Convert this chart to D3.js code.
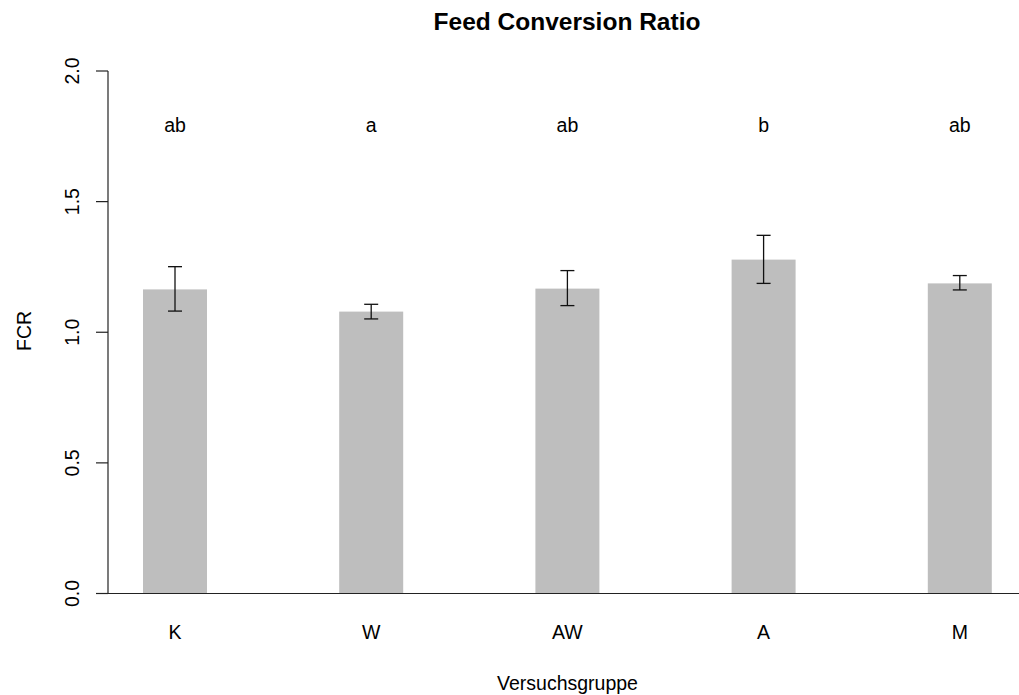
<!DOCTYPE html>
<html>
<head>
<meta charset="utf-8">
<script src="https://cdn.jsdelivr.net/npm/d3@7"></script>
<style>
  body { margin: 0; background: #fff; }
  text { font-family: "Liberation Sans", Arial, sans-serif; fill: #000; }
</style>
</head>
<body>
<svg width="1019" height="695"></svg>
<script>
/* Data */

var groups   = ["K", "W", "AW", "A", "M"];
var fcr      = [1.164, 1.079, 1.167, 1.278, 1.187];
var errLow   = [1.081, 1.051, 1.102, 1.187, 1.162];
var errHigh  = [1.251, 1.107, 1.236, 1.371, 1.217];
var letters  = ["ab", "a", "ab", "b", "ab"];
var yTicks   = [0, 0.5, 1, 1.5, 2];
var letterY  = 1.8;

/* Setup */

var svg = d3.select("svg");
var w = +svg.attr("width"),
    h = +svg.attr("height"),
    fs = 19.5,
    capW = 14;

var y = d3.scaleLinear()
    .domain([0, 2])
    .range([593.5, 71]);

var x = d3.scaleBand()
    .domain(groups)
    .range([108, 1026.8])
    .paddingInner(0.6738)
    .paddingOuter(0.1784);

var rows = groups.map((g, i) => ({
  g: g, v: fcr[i], lo: errLow[i], hi: errHigh[i], lab: letters[i]
}));

/* Bars */

svg.selectAll(".bar")
  .data(rows)
  .enter().append("rect")
  .classed("bar", true)
  .attr("x", (d) => x(d.g))
  .attr("y", (d) => y(d.v))
  .attr("width", x.bandwidth())
  .attr("height", (d) => y(0) - y(d.v))
  .attr("fill", "#bebebe");

/* Error bars */

var cx = (d) => x(d.g) + x.bandwidth() / 2;

var eb = svg.selectAll(".err")
  .data(rows)
  .enter().append("g")
  .classed("err", true)
  .attr("stroke", "#111")
  .attr("stroke-width", 1.3);

eb.append("line")
  .attr("x1", cx).attr("x2", cx)
  .attr("y1", (d) => y(d.hi))
  .attr("y2", (d) => y(d.lo));
eb.append("line")
  .attr("x1", (d) => cx(d) - capW / 2).attr("x2", (d) => cx(d) + capW / 2)
  .attr("y1", (d) => y(d.hi)).attr("y2", (d) => y(d.hi));
eb.append("line")
  .attr("x1", (d) => cx(d) - capW / 2).attr("x2", (d) => cx(d) + capW / 2)
  .attr("y1", (d) => y(d.lo)).attr("y2", (d) => y(d.lo));

/* Significance letters */

svg.selectAll(".sig")
  .data(rows)
  .enter().append("text")
  .classed("sig", true)
  .attr("x", cx)
  .attr("y", y(letterY) + 9)
  .attr("text-anchor", "middle")
  .style("font-size", fs + "px")
  .text((d) => d.lab);

/* Axes */

var ax = svg.append("g").attr("stroke", "#222").attr("stroke-width", 1.2);

ax.append("line")
  .attr("x1", 108).attr("x2", 108)
  .attr("y1", y(2)).attr("y2", y(0));

ax.append("line")
  .attr("x1", 96).attr("x2", w)
  .attr("y1", y(0)).attr("y2", y(0));

ax.selectAll(".tick")
  .data(yTicks)
  .enter().append("line")
  .attr("x1", 96).attr("x2", 108)
  .attr("y1", (d) => y(d)).attr("y2", (d) => y(d));

svg.selectAll(".ylab")
  .data(yTicks)
  .enter().append("text")
  .classed("ylab", true)
  .attr("transform", (d) => "translate(79," + y(d) + ") rotate(-90)")
  .attr("text-anchor", "middle")
  .style("font-size", fs + "px")
  .text((d) => d3.format(".1f")(d));

svg.selectAll(".xlab")
  .data(groups)
  .enter().append("text")
  .classed("xlab", true)
  .attr("x", (d) => x(d) + x.bandwidth() / 2)
  .attr("y", 638.5)
  .attr("text-anchor", "middle")
  .style("font-size", fs + "px")
  .text((d) => d);

/* Titles */

svg.append("text")
  .attr("x", 567)
  .attr("y", 30)
  .attr("text-anchor", "middle")
  .style("font-size", "24.5px")
  .style("font-weight", "bold")
  .text("Feed Conversion Ratio");

svg.append("text")
  .attr("x", 567.5)
  .attr("y", 689.5)
  .attr("text-anchor", "middle")
  .style("font-size", fs + "px")
  .text("Versuchsgruppe");

svg.append("text")
  .attr("transform", "translate(31,331) rotate(-90)")
  .attr("text-anchor", "middle")
  .style("font-size", fs + "px")
  .text("FCR");
</script>
</body>
</html>
